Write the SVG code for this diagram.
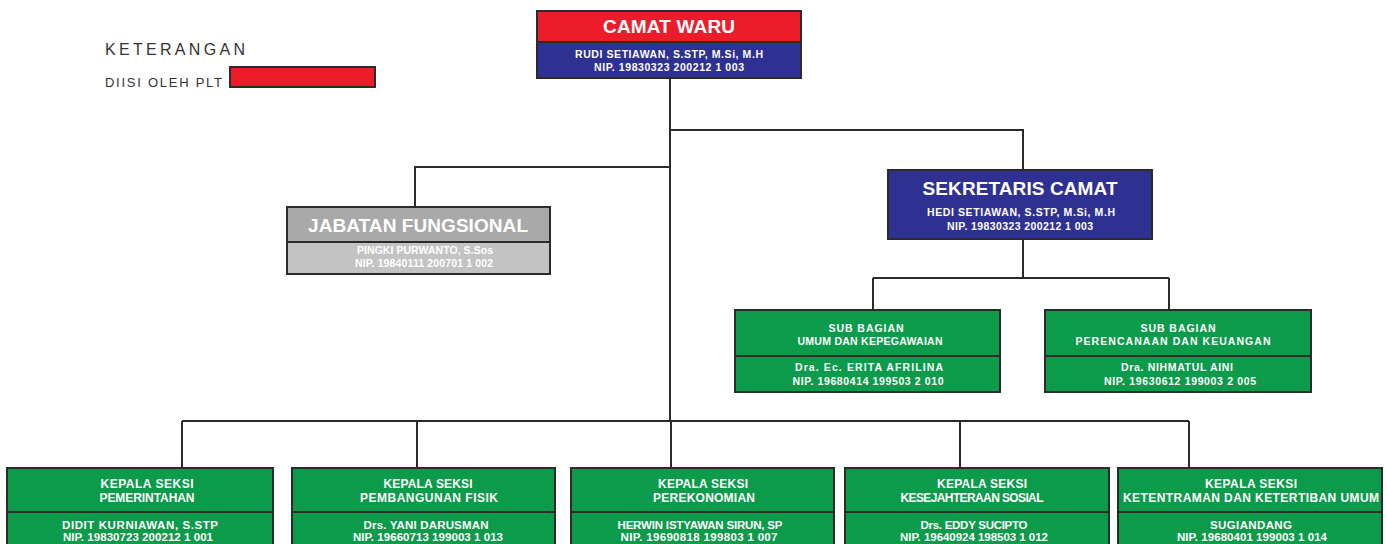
<svg xmlns="http://www.w3.org/2000/svg" width="1387" height="544" viewBox="0 0 1387 544">
<style>
.bx{stroke:#2b2b2b;stroke-width:2}
.red{fill:#ec1c2a}
.blue{fill:#2e3191}
.green{fill:#0b9b4a}
.g1{fill:#a9a9a9}
.g2{fill:#c3c3c3}
.t{font-family:"Liberation Sans",Arial,sans-serif;fill:#ffffff;font-weight:bold;text-anchor:middle}
.big{font-size:19px}
.sm{font-size:10.5px}
.md{font-size:11.5px}
.hd{font-size:12px}
.lg{font-family:"Liberation Sans",Arial,sans-serif;fill:#333333}
.ln{stroke:#2b2b2b;stroke-width:2;fill:none}
</style>
<rect width="1387" height="544" fill="#ffffff"/>
<g id="legend">
<text class="lg" x="105" y="55" font-size="16" textLength="140">KETERANGAN</text>
<text class="lg" x="105" y="87" font-size="13" textLength="117">DIISI OLEH PLT</text>
<rect x="230" y="67" width="145" height="20" class="red bx"/>
</g>
<g id="connectors">
<path class="ln" d="M670 78V421M670 130H1023V170M670 167H415V207M1023 239V278M873 278H1169M873 278V310M1169 278V310M182 421H1189M182 421V468M417 421V468M671 421V468M960 421V468M1189 421V468"/>
</g>
<g id="camat">
<rect x="537" y="11" width="264" height="31" class="red bx"/>
<rect x="537" y="42" width="264" height="36" class="blue bx"/>
<text class="t big" x="669" y="33" textLength="132">CAMAT WARU</text>
<text class="t sm" x="669" y="58" textLength="188">RUDI SETIAWAN, S.STP, M.Si, M.H</text>
<text class="t sm" x="669" y="71" textLength="150">NIP. 19830323 200212 1 003</text>
</g>
<g id="jabatan">
<rect x="287" y="207" width="263" height="35" class="g1 bx"/>
<rect x="287" y="242" width="263" height="32" class="g2 bx"/>
<text class="t big" x="418" y="232" textLength="220">JABATAN FUNGSIONAL</text>
<text class="t sm" x="425" y="254" textLength="136">PINGKI PURWANTO, S.Sos</text>
<text class="t sm" x="424" y="267" textLength="138">NIP. 19840111 200701 1 002</text>
</g>
<g id="sekretaris">
<rect x="888" y="170" width="264" height="69" class="blue bx"/>
<text class="t big" x="1020" y="195" font-size="18" textLength="195">SEKRETARIS CAMAT</text>
<text class="t sm" x="1021" y="216" textLength="188">HEDI SETIAWAN, S.STP, M.Si, M.H</text>
<text class="t sm" x="1020" y="230" textLength="146">NIP. 19830323 200212 1 003</text>
</g>
<g id="subbag-umum">
<rect x="735" y="310" width="265" height="46" class="green bx"/>
<rect x="735" y="356" width="265" height="36" class="green bx"/>
<text class="t sm" x="866" y="332" textLength="75">SUB BAGIAN</text>
<text class="t sm" x="870" y="345" textLength="145">UMUM DAN KEPEGAWAIAN</text>
<text class="t sm" x="869" y="371" textLength="148">Dra. Ec. ERITA AFRILINA</text>
<text class="t sm" x="868" y="385" textLength="151">NIP. 19680414 199503 2 010</text>
</g>
<g id="subbag-keuangan">
<rect x="1045" y="310" width="266" height="46" class="green bx"/>
<rect x="1045" y="356" width="266" height="36" class="green bx"/>
<text class="t sm" x="1178" y="332" textLength="75">SUB BAGIAN</text>
<text class="t sm" x="1173" y="345" textLength="195">PERENCANAAN DAN KEUANGAN</text>
<text class="t sm" x="1177" y="371" textLength="112">Dra. NIHMATUL AINI</text>
<text class="t sm" x="1180" y="385" textLength="152">NIP. 19630612 199003 2 005</text>
</g>
<g id="seksi-pemerintahan">
<rect x="7" y="468" width="266" height="44" class="green bx"/>
<rect x="7" y="512" width="266" height="40" class="green bx"/>
<text class="t hd" x="147" y="488" textLength="93">KEPALA SEKSI</text>
<text class="t hd" x="147" y="502" textLength="95">PEMERINTAHAN</text>
<text class="t md" x="140" y="529" textLength="156">DIDIT KURNIAWAN, S.STP</text>
<text class="t md" x="138" y="541" textLength="150">NIP. 19830723 200212 1 001</text>
</g>
<g id="seksi-pembangunan">
<rect x="292" y="468" width="263" height="44" class="green bx"/>
<rect x="292" y="512" width="263" height="40" class="green bx"/>
<text class="t hd" x="428" y="488" textLength="89">KEPALA SEKSI</text>
<text class="t hd" x="429" y="502" textLength="138">PEMBANGUNAN FISIK</text>
<text class="t md" x="426" y="529" textLength="125">Drs. YANI DARUSMAN</text>
<text class="t md" x="428" y="541" textLength="150">NIP. 19660713 199003 1 013</text>
</g>
<g id="seksi-perekonomian">
<rect x="571" y="468" width="263" height="44" class="green bx"/>
<rect x="571" y="512" width="263" height="40" class="green bx"/>
<text class="t hd" x="703" y="488" textLength="90">KEPALA SEKSI</text>
<text class="t hd" x="704" y="502" textLength="102">PEREKONOMIAN</text>
<text class="t md" x="700" y="529" textLength="165">HERWIN ISTYAWAN SIRUN, SP</text>
<text class="t md" x="699" y="541" textLength="157">NIP. 19690818 199803 1 007</text>
</g>
<g id="seksi-kesejahteraan">
<rect x="845" y="468" width="264" height="44" class="green bx"/>
<rect x="845" y="512" width="264" height="40" class="green bx"/>
<text class="t hd" x="982" y="488" textLength="90">KEPALA SEKSI</text>
<text class="t hd" x="972" y="502" textLength="143">KESEJAHTERAAN SOSIAL</text>
<text class="t md" x="974" y="529" textLength="107">Drs. EDDY SUCIPTO</text>
<text class="t md" x="974" y="541" textLength="148">NIP. 19640924 198503 1 012</text>
</g>
<g id="seksi-ketentraman">
<rect x="1118" y="468" width="264" height="44" class="green bx"/>
<rect x="1118" y="512" width="264" height="40" class="green bx"/>
<text class="t hd" x="1251" y="488" textLength="92">KEPALA SEKSI</text>
<text class="t hd" x="1251" y="502" textLength="256">KETENTRAMAN DAN KETERTIBAN UMUM</text>
<text class="t md" x="1251" y="529" textLength="82">SUGIANDANG</text>
<text class="t md" x="1252" y="541" textLength="150">NIP. 19680401 199003 1 014</text>
</g>
</svg>
